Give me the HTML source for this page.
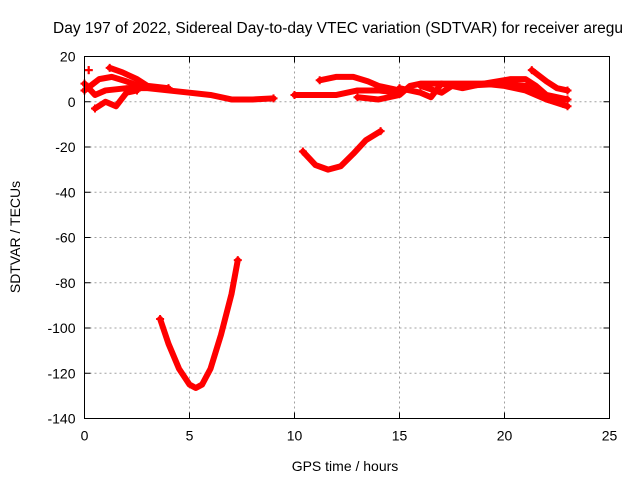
<!DOCTYPE html>
<html><head><meta charset="utf-8"><style>
html,body{margin:0;padding:0;background:#fff;overflow:hidden;}
svg{display:block;font-family:"Liberation Sans",sans-serif;}
</style></head><body>
<svg id="chart" width="640" height="480" viewBox="0 0 640 480">
<text x="53" y="33" font-size="15.5" fill="#000">Day 197 of 2022, Sidereal Day-to-day VTEC variation (SDTVAR) for receiver aregu</text>
<g id="grid"></g>
<g id="axes"></g>
<g id="series"></g>
<rect x="84.5" y="56.5" width="525" height="362" fill="none" stroke="#000" stroke-width="1"/>
<text x="345" y="471" font-size="14" text-anchor="middle">GPS time / hours</text>
<text transform="translate(20,237) rotate(-90)" font-size="14" text-anchor="middle">SDTVAR / TECUs</text>
</svg>
<script>
const xTicks = [0,5,10,15,20,25];
const yTicks = [20,0,-20,-40,-60,-80,-100,-120,-140];
const trackBigV = [[3.6,-96],[4.0,-107],[4.5,-118],[5.0,-125],[5.3,-126.5],[5.6,-125],[6.0,-118],[6.5,-103],[7.0,-85],[7.3,-70]];
const trackMidArc = [[10.4,-22],[11.0,-28],[11.6,-30],[12.2,-28.5],[12.8,-23],[13.4,-17],[14.1,-13]];
const trackA = [[0,8],[0.5,3],[1,5],[2,6],[3,6],[4,5],[5,4],[6,3],[7,1],[8,1],[9,1.5]];
const trackB = [[0.5,-3],[1,0],[1.5,-2],[2,4],[2.5,5]];
const trackB2 = [[0.2,14]];
const trackC = [[1.2,15],[1.8,13],[2.5,10],[3,7],[4,6]];
const trackD = [[0,5],[0.7,10],[1.3,11],[2,9],[2.6,7]];
const trackE = [[10,3],[11,3],[12,3],[13,5],[14,5],[15,4]];
const trackF = [[11.2,9.5],[12,11],[12.8,11],[13.5,9],[14,7],[15,5]];
const trackG = [[13,2],[14,1],[15,3],[15.5,7],[16,8],[17,8],[18,8],[19,8],[20,7],[21,5],[22,1],[23,-2]];
const trackH = [[15,6],[16,4],[16.5,2],[17,8],[18,6],[19,8],[20.3,10],[21,10],[21.5,7],[22,3],[23,1]];
const trackI = [[21.3,14],[22,9],[22.5,6],[23,5]];
const trackJ = [[16,7],[17,4],[17.5,7],[18,7],[20,8],[21,7],[22,1],[22.8,-1]];
const tracks = [trackBigV,trackMidArc,trackA,trackB,trackB2,trackC,trackD,trackE,trackF,trackG,trackH,trackI,trackJ];

const NS="http://www.w3.org/2000/svg";
const L=84.5,R=609.5,T=56.5,B=418.5;
const xMin=0,xMax=25,yMin=-140,yMax=20;
function sx(v){return L+(v-xMin)/(xMax-xMin)*(R-L);}
function sy(v){return B-(v-yMin)/(yMax-yMin)*(B-T);}
function mk(tag,attrs,parent){const e=document.createElementNS(NS,tag);for(const k in attrs)e.setAttribute(k,attrs[k]);parent.appendChild(e);return e;}
const grid=document.getElementById('grid'),axes=document.getElementById('axes'),ser=document.getElementById('series');
xTicks.forEach(t=>{
  const x=sx(t);
  if(t>xMin&&t<xMax){const g=mk('line',{x1:x,x2:x,y1:T,y2:B,stroke:'#a0a0a0','stroke-dasharray':'2,3'},grid);
  
  }
  mk('line',{x1:x,x2:x,y1:B,y2:B-6,stroke:'#000'},axes);
  mk('line',{x1:x,x2:x,y1:T,y2:T+6,stroke:'#000'},axes);
  const tx=mk('text',{x:x,y:B+22,'font-size':14,'text-anchor':'middle'},axes);tx.textContent=t;
  
  
});
yTicks.forEach(t=>{
  const y=sy(t);
  if(t>yMin&&t<yMax){const g=mk('line',{x1:L,x2:R,y1:y,y2:y,stroke:'#a0a0a0','stroke-dasharray':'2,3'},grid);
  
  }
  mk('line',{x1:L,x2:L+6,y1:y,y2:y,stroke:'#000'},axes);
  mk('line',{x1:R,x2:R-6,y1:y,y2:y,stroke:'#000'},axes);
  const tx=mk('text',{x:L-9,y:y+5,'font-size':14,'text-anchor':'end'},axes);tx.textContent=t;
  
  
});
tracks.forEach(tr=>{
  if(tr.length>1){
    const p=mk('polyline',{points:tr.map(d=>sx(d[0])+','+sy(d[1])).join(' '),fill:'none',stroke:'#ff0000','stroke-width':6,'stroke-linejoin':'round','stroke-linecap':'round'},ser);
    
    
  }
  [tr[0],tr[tr.length-1]].forEach(d=>{
    const x=sx(d[0]),y=sy(d[1]);
    const m=mk('path',{d:`M${x-4},${y}H${x+4}M${x},${y-4}V${y+4}`,stroke:'#ff0000','stroke-width':2},ser);
    
    
  });
});
</script>
</body></html>
